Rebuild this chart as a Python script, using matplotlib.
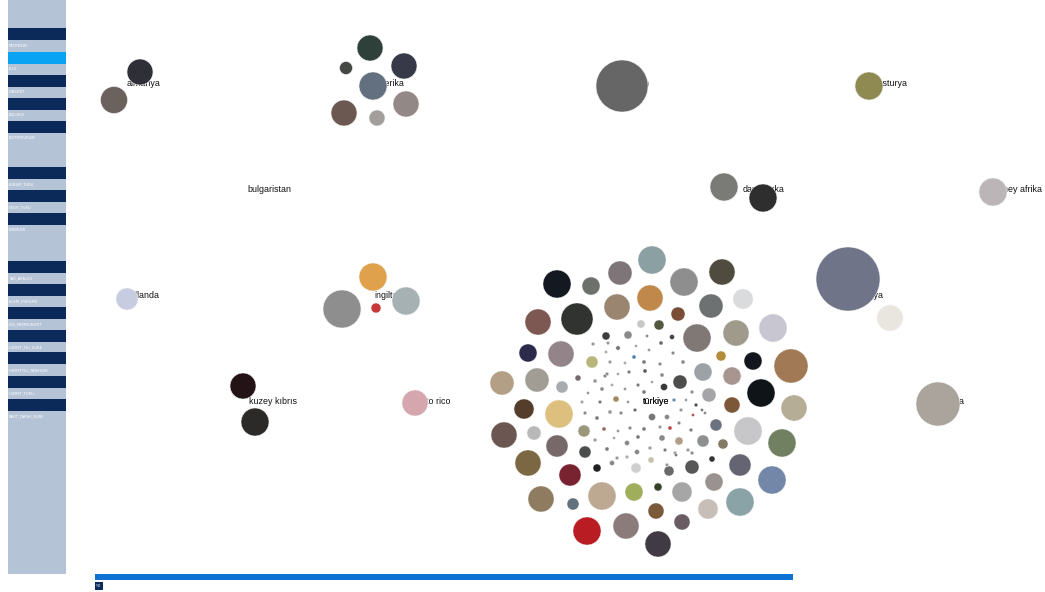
import matplotlib
matplotlib.use("Agg")
import matplotlib.pyplot as plt
from matplotlib.patches import Circle, Rectangle

W, H = 1045, 592

# ---- group labels ----
group_names = ["almanya", "amerika", "japon", "avusturya", "bulgaristan", "danimarka",
               "güney afrika", "hollanda", "ingiltere", "italya", "kuzey kıbrıs",
               "porto rico", "rusya", "türkiye"]
label_x = [127, 373, 627, 869, 247, 743, 993, 125, 374, 862, 249, 413, 942, 643]
label_y = [83, 83, 83, 83, 189, 189, 189, 296, 296, 296, 402, 402, 402, 402]

# ---- bubbles of the small groups ----
bubble_x = [140, 114,
            370, 346, 404, 373, 344, 406, 377,
            622, 869,
            724, 763, 993,
            127, 373, 342, 406, 376,
            848, 890,
            243, 255, 415, 938]
bubble_y = [72, 100,
            48, 68, 66, 86, 113, 104, 118,
            86, 86,
            187, 198, 192,
            299, 277, 309, 301, 308,
            279, 318,
            386, 422, 403, 404]
bubble_r = [13, 13.5,
            13, 6.5, 13, 14, 13, 13, 8,
            26, 14,
            14, 14, 14,
            11, 14, 19, 14, 5,
            32, 13,
            13, 14, 13, 22]
bubble_c = ["#2e2f37", "#6b625d",
            "#2f403b", "#464846", "#373948", "#637080", "#6b5850", "#928885", "#a19e9b",
            "#666666", "#8e8a52",
            "#7a7b76", "#2e2e2e", "#bbb5b8",
            "#c8cce0", "#e0a14d", "#8e8e8e", "#a5b1b2", "#c8383a",
            "#707489", "#e9e6e0",
            "#231316", "#2b2a28", "#d5a6ad", "#aaa49c"]

# ---- türkiye cluster ----
tr_x = [652, 620, 684, 722, 557, 591, 650, 617, 711, 743, 538, 577, 678, 697, 736, 773,
        528, 561, 592, 721, 753, 791, 703, 732, 761, 502, 537, 562, 680, 709, 732, 794,
        524, 559, 748, 716, 703, 723, 782, 504, 534, 557, 584, 585, 528, 570, 597, 636,
        692, 740, 712, 669, 714, 772, 682, 740, 658, 708, 656, 682, 658, 541, 573, 602,
        634, 587, 626, 651, 679, 659, 641, 606, 628, 578, 664, 616, 652,
        647, 672, 593, 618, 636, 661, 649, 673, 606, 610, 634, 625, 644, 660, 683, 595,
        607, 618, 629, 645, 662, 652, 638, 625, 612, 602, 588, 644, 692, 582, 600, 628,
        674, 686, 585, 597, 610, 621, 635, 667, 681, 693, 702, 604, 618, 630, 644, 660,
        670, 679, 691, 595, 614, 627, 638, 662, 607, 617, 637, 650, 665, 675, 692, 627,
        612, 667, 696, 705, 688, 676, 605, 608]
tr_y = [260, 273, 282, 272, 284, 286, 298, 307, 306, 299, 322, 319, 314, 338, 333, 328,
        353, 354, 362, 356, 361, 366, 372, 376, 393, 383, 380, 387, 382, 395, 405, 408,
        409, 414, 431, 425, 441, 444, 443, 435, 433, 446, 431, 452, 463, 475, 468, 468,
        467, 465, 459, 471, 482, 480, 492, 502, 487, 509, 511, 522, 544, 499, 504, 496,
        492, 531, 526, 460, 441, 325, 324, 336, 335, 378, 387, 399, 417,
        336, 337, 344, 348, 346, 343, 350, 353, 352, 362, 357, 363, 362, 364, 362, 381,
        374, 374, 372, 371, 375, 382, 385, 389, 385, 389, 393, 392, 392, 402, 402, 402,
        400, 400, 413, 418, 412, 413, 410, 417, 410, 415, 410, 429, 431, 428, 429, 427,
        428, 423, 430, 440, 438, 443, 437, 438, 449, 458, 452, 448, 450, 453, 453, 457,
        463, 465, 405, 413, 450, 455, 376, 343]
tr_r = [14, 12, 14, 13, 14, 9, 13, 13, 12, 10, 13, 16, 7, 14, 13, 14,
        9, 13, 6, 5, 9, 17, 9, 9, 14, 12, 12, 6, 7, 7, 8, 13,
        10, 14, 14, 6, 6, 5, 14, 13, 7, 11, 6, 6, 13, 11, 4, 5,
        7, 11, 3, 5, 9, 14, 10, 14, 4, 10, 8, 8, 13, 13, 6, 14,
        9, 14, 13, 3, 4, 5, 4, 4, 4, 3, 3.5, 3, 3.5,
        1.5, 2.5, 1.8, 2.2, 1.5, 2, 1.5, 1.8, 1.5, 1.8, 2, 1.5, 2, 1.8, 2, 2,
        1.8, 1.5, 1.8, 2, 2, 1.5, 1.8, 1.5, 1.5, 2, 1.5, 2, 1.8, 1.8, 1.8, 1.5,
        1.8, 1.5, 1.8, 2, 2, 1.8, 1.8, 2.5, 1.8, 1.5, 1.5, 2, 1.5, 1.8, 2, 1.8,
        2, 1.8, 1.8, 1.8, 1.5, 2.5, 2, 3, 2, 1.8, 2.5, 1.8, 1.8, 1.8, 1.8, 1.8,
        2.5, 1.8, 1.8, 1.5, 1.8, 1.5, 1.8, 1.8]
tr_c = ["#8aa0a3", "#7e7579", "#8e8e8e", "#4f4b3e", "#141820", "#6d706b", "#c0884a", "#9a8571",
        "#6d7171", "#dadbdd", "#7d5751", "#30332f", "#7a4e36", "#7f7874", "#a09a8d", "#c8c7d1",
        "#2c2b4b", "#938489", "#b6b67a", "#b48c3a", "#15151f", "#a17a55", "#9ca2a6", "#a89590",
        "#0f1419", "#b39e86", "#a19c94", "#a8abae", "#4e4e4c", "#a5a5a7", "#7c5838", "#b6ad97",
        "#553d2b", "#ddbf7e", "#c7c6c8", "#6d7280", "#8e9090", "#837a66", "#718061", "#6b5651",
        "#b8b8b8", "#776969", "#9c977a", "#4a4d4b", "#7b6741", "#7a2330", "#222222", "#cfcfcf",
        "#575757", "#646473", "#333333", "#6a6a6a", "#999290", "#7388a8", "#a6a6a6", "#8aa3a6",
        "#354028", "#c7beb7", "#7a5a38", "#6b5b62", "#403a44", "#8f7b5f", "#61717e", "#bda991",
        "#9fae5b", "#b91c23", "#8c7b7b", "#c9c0a8", "#b19c86", "#525840", "#c7c7c7", "#3c3c3a",
        "#8a8a8a", "#7a6a70", "#3a3a3a", "#a08a60", "#777777",
        "#888888", "#444444", "#999999", "#777777", "#aaaaaa", "#666666", "#999999", "#888888",
        "#aaaaaa", "#999999", "#4a7fb0", "#aaaaaa", "#777777", "#888888", "#888888", "#999999",
        "#888888", "#aaaaaa", "#777777", "#555555", "#888888", "#aaaaaa", "#777777", "#999999",
        "#aaaaaa", "#888888", "#999999", "#777777", "#888888", "#aaaaaa", "#777777", "#999999",
        "#5a8ac0", "#999999", "#888888", "#777777", "#999999", "#888888", "#666666", "#888888",
        "#999999", "#b05050", "#777777", "#8a6a60", "#999999", "#888888", "#777777", "#999999",
        "#c04040", "#888888", "#777777", "#999999", "#aaaaaa", "#888888", "#777777", "#888888",
        "#777777", "#999999", "#888888", "#999999", "#777777", "#999999", "#888888", "#aaaaaa",
        "#888888", "#999999", "#444444", "#888888", "#999999", "#777777", "#888888", "#999999"]

# ---- sidebar ----
side_labels = ["MEDYBEZE", "ELLE", "CINSIYET", "BOLGESI", "EGITIMDURUM",
               "KURUM_TURU", "GELIR_TURU", "BIRIMLER",
               "YAS_ARALIGI", "ISLEM_DURUMU", "KISI_MEMNUNIYET", "HIZMET_YILI_SURE",
               "HIZMETYILI_TARIHLER", "HIZMET_TURU", "KAYIT_TARIHI_SURE"]
side_label_y = [46, 69, 92, 115, 138, 184, 207, 230, 278, 301, 324, 347, 370, 393, 416]
navy_rows = [28, 75, 98, 121, 167, 190, 213, 261, 284, 307, 330, 352, 376, 399]
active_row = 52

fig = plt.figure(figsize=(W / 100, H / 100), dpi=100)
ax = fig.add_axes([0, 0, 1, 1])
ax.set_xlim(0, W)
ax.set_ylim(H, 0)
ax.axis("off")

# sidebar
ax.add_patch(Rectangle((8, 0), 58, 574, facecolor="#b5c3d7", edgecolor="none", zorder=1))
for y0 in navy_rows:
    ax.add_patch(Rectangle((8, y0), 58, 11.5, facecolor="#0b2a5a", edgecolor="none", zorder=2))
ax.add_patch(Rectangle((8, active_row), 58, 11.5, facecolor="#0aa2f2", edgecolor="none", zorder=2))
for t, y in zip(side_labels, side_label_y):
    ax.text(9, y, t, fontsize=2.6, color="white", va="center", ha="left",
            family="DejaVu Sans", zorder=3)

# bottom bar
ax.add_patch(Rectangle((95, 574), 698, 6, facecolor="#0d72d2", edgecolor="none", zorder=1))
ax.add_patch(Rectangle((95, 582), 8, 8, facecolor="#0b2a5e", edgecolor="none", zorder=1))
ax.text(96, 586, "%0", fontsize=2.4, color="white", va="center", ha="left", zorder=2)

# labels (below bubbles)
for name, x, y in zip(group_names, label_x, label_y):
    ax.text(x, y, name, fontsize=6.4, color="#111111", va="center", ha="left",
            family="Liberation Sans", zorder=3)

for x, y, r, c in zip(bubble_x, bubble_y, bubble_r, bubble_c):
    ax.add_patch(Circle((x, y), r, facecolor=c, edgecolor="#f4f4f4", linewidth=0.4, zorder=4))

for x, y, r, c in zip(tr_x, tr_y, tr_r, tr_c):
    ax.add_patch(Circle((x, y), r, facecolor=c, edgecolor="#f4f4f4", linewidth=0.3, zorder=4))

ax.text(label_x[-1], label_y[-1], group_names[-1], fontsize=6.4, color="#111111",
        va="center", ha="left", family="Liberation Sans", zorder=5)

fig.savefig("out.png", dpi=100, facecolor="white")
